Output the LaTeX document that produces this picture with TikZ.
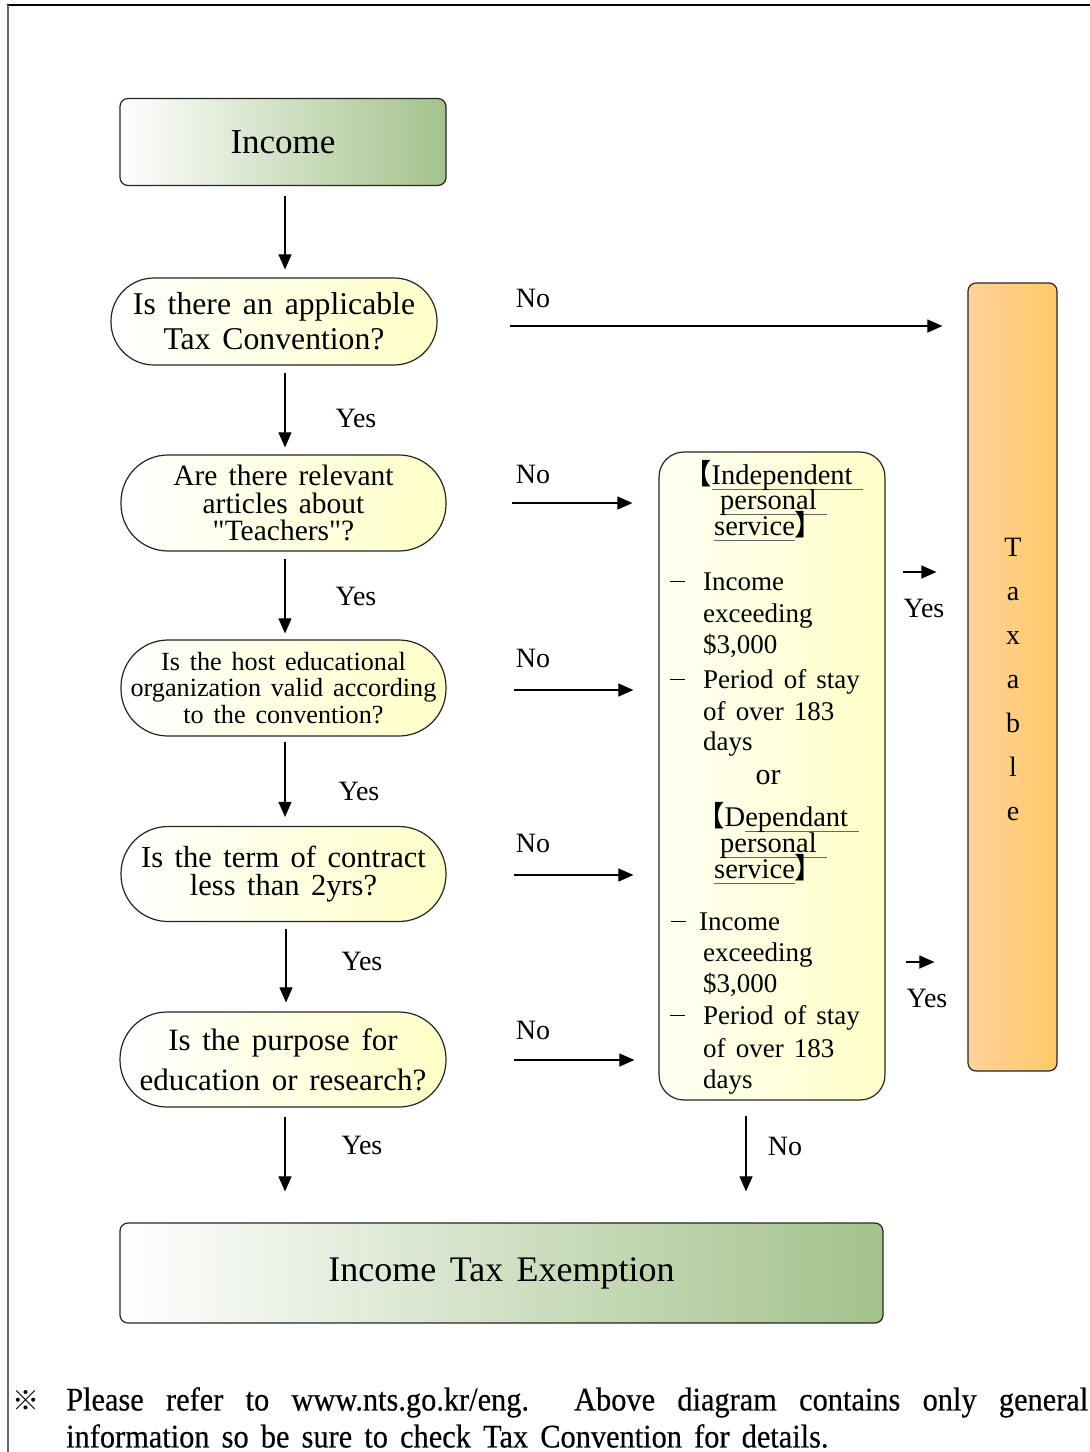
\documentclass[tikz,border=0pt]{standalone}
\usepackage{fontspec}
\setmainfont[WordSpace=1.5]{Liberation Serif}
\newfontfamily\cjk{Noto Sans CJK SC}
\newfontfamily\footfont[FakeStretch=0.92,WordSpace=1.6,FakeBold=0.4]{Liberation Serif}
\usetikzlibrary{arrows.meta}
\definecolor{grn}{RGB}{163,194,139}
\definecolor{qyel}{RGB}{255,255,200}
\definecolor{oraL}{RGB}{255,208,155}
\definecolor{oraR}{RGB}{255,202,102}
\newcommand\fsz[2]{\fontsize{#1pt}{#2pt}\selectfont}
\newcommand\myul[1]{\setbox0\hbox{#1}\rlap{\raisebox{-6pt}{\color{black!60}\rule{\wd0}{1.3pt}}}\box0}
\newcommand\mydash{\makebox[33pt][l]{\rule[8pt]{15pt}{1.2pt}}}
\newcommand\sq{{\addfontfeature{Ligatures=TeXOff}"}}
\tikzset{
  greenbox/.style={draw=black!85, line width=1.2pt, rounded corners=8pt, left color=white, right color=grn, inner sep=0pt, align=center},
  qbox/.style={draw=black!85, line width=1.2pt, left color=white, right color=qyel, inner sep=0pt, align=center},
  arr/.style={draw=black, line width=1.1pt, -{Triangle[length=15pt,width=13pt]}},
  lbl/.style={font=\fsz{28}{30}, inner sep=0pt, anchor=base},
  mtxt/.style={font=\fsz{27}{30}, inner sep=0pt, anchor=base west},
  mhead/.style={font=\fsz{28.5}{30}, inner sep=0pt, anchor=base west},
}
\begin{document}
\begin{tikzpicture}[x=1pt,y=-1pt]
\useasboundingbox (0,0) rectangle (1090,1452);
\fill[white] (0,0) rectangle (1090,1452);
% frame
\draw[line width=2.5pt] (7,5) -- (1090,5);
\draw[line width=2pt, black!60] (8,5) -- (8,1452);

% left column
\node[greenbox, minimum width=326pt, minimum height=87pt, font=\fsz{35}{38}] (inc) at (283,142) {Income};
\node[qbox, minimum width=326pt, minimum height=87pt, rounded corners=43pt, font=\fsz{31.7}{35}] (q1) at (274,321.5) {Is there an applicable\\Tax Convention?};
\node[qbox, minimum width=325pt, minimum height=96pt, rounded corners=47pt, font=\fsz{29.5}{27.5}] (q2) at (283.5,503) {Are there relevant\\articles about\\\sq Teachers\sq?};
\node[qbox, minimum width=325pt, minimum height=96pt, rounded corners=47pt, font=\fsz{26.2}{26.5}] (q3) at (283.5,688) {Is the host educational\\organization valid according\\to the convention?};
\node[qbox, minimum width=325pt, minimum height=95pt, rounded corners=47pt, font=\fsz{30.5}{28}] (q4) at (283.5,874) {Is the term of contract\\less than 2yrs?};
\node[qbox, minimum width=326pt, minimum height=95pt, rounded corners=47pt, font=\fsz{31}{40}] (q5) at (283,1059.5) {Is the purpose for\\education or research?};
\node[greenbox, minimum width=763pt, minimum height=100pt, font=\fsz{36}{38}] (exe) at (501.5,1273) {Income Tax Exemption};

% middle box
\node[draw=black!85, line width=1.2pt, rounded corners=25pt, left color=qyel!20!white, right color=qyel, minimum width=226pt, minimum height=648pt, inner sep=0pt] (mid) at (772,776) {};
% taxable box
\node[draw=black!85, line width=1.2pt, rounded corners=8pt, left color=oraL, right color=oraR, minimum width=89pt, minimum height=788pt, inner sep=0pt] (tax) at (1012.5,677) {};
\foreach \l [count=\i] in {T,a,x,a,b,l,e}
  \node[lbl] (tx\i) at (1013,{556+44*(\i-1)}) {\l};

% middle box text
\node[mhead] (m1) at (683,484) {{\cjk 【}\myul{Independent\ }};
\node[mhead] (m2) at (720,509) {\myul{personal\ }};
\node[mhead] (m3) at (714,535) {\myul{service}{\cjk 】}};
\node[mtxt] (m4) at (670,590) {\mydash Income};
\node[mtxt] (m5) at (703,622) {exceeding};
\node[mtxt] (m6) at (703,653) {\$3,000};
\node[mtxt] (m7) at (670,688) {\mydash Period of stay};
\node[mtxt] (m8) at (703,720) {of over 183};
\node[mtxt] (m9) at (703,750) {days};
\node[mtxt, anchor=base, font=\fsz{30}{32}] (m10) at (768,784) {or};
\node[mhead] (m11) at (696,826) {{\cjk 【}D\myul{ependant\ }};
\node[mhead] (m12) at (720,852) {\myul{personal\ }};
\node[mhead] (m13) at (714,878) {\myul{service}{\cjk 】}};
\node[mtxt] (m14) at (671,930) {\makebox[28pt][l]{\rule[8pt]{15pt}{1.2pt}}Income};
\node[mtxt] (m15) at (703,961) {exceeding};
\node[mtxt] (m16) at (703,992) {\$3,000};
\node[mtxt] (m17) at (670,1024) {\mydash Period of stay};
\node[mtxt] (m18) at (703,1057) {of over 183};
\node[mtxt] (m19) at (703,1088) {days};

% vertical arrows
\draw[arr, shorten <=10pt, shorten >=8pt] ([xshift=2pt]inc.south) -- (q1.north -| 285,0);
\draw[arr, shorten <=7pt, shorten >=7pt] (q1.south -| 285,0) -- (q2.north -| 285,0);
\draw[arr, shorten <=7pt, shorten >=6pt] (q2.south -| 285,0) -- (q3.north -| 285,0);
\draw[arr, shorten <=5pt, shorten >=9pt] (q3.south -| 285,0) -- (q4.north -| 285,0);
\draw[arr, shorten <=7pt, shorten >=9pt] (q4.south -| 286,0) -- (q5.north -| 286,0);
\draw[arr, shorten <=9pt, shorten >=31pt] (q5.south -| 285,0) -- (exe.north -| 285,0);
\draw[arr, shorten <=15pt, shorten >=31pt] (mid.south -| 746,0) -- (exe.north -| 746,0);

% horizontal No arrows
\draw[arr, shorten <=72pt, shorten >=25pt] (q1.east |- 0,326) -- (tax.west |- 0,326);
\draw[arr, shorten <=65pt, shorten >=26pt] (q2.east |- 0,503) -- (mid.west |- 0,503);
\draw[arr, shorten <=67pt, shorten >=25pt] (q3.east |- 0,690) -- (mid.west |- 0,690);
\draw[arr, shorten <=67pt, shorten >=25pt] (q4.east |- 0,875) -- (mid.west |- 0,875);
\draw[arr, shorten <=67pt, shorten >=24pt] (q5.east |- 0,1060) -- (mid.west |- 0,1060);

% Yes arrows to Taxable
\draw[arr, shorten <=17pt, shorten >=31pt] (mid.east |- 0,572) -- (tax.west |- 0,572);
\draw[arr, shorten <=20pt, shorten >=33pt] (mid.east |- 0,962) -- (tax.west |- 0,962);

% labels
\node[lbl] (n1) at (533,307) {No};
\node[lbl] (n2) at (533,483) {No};
\node[lbl] (n3) at (533,667) {No};
\node[lbl] (n4) at (533,852) {No};
\node[lbl] (n5) at (533,1039) {No};
\node[lbl] (n6) at (785,1155) {No};
\node[lbl] (y1) at (356,427) {Yes};
\node[lbl] (y2) at (356,605) {Yes};
\node[lbl] (y3) at (359,800) {Yes};
\node[lbl] (y4) at (362,970) {Yes};
\node[lbl] (y5) at (362,1154) {Yes};
\node[lbl] (y6) at (924,617) {Yes};
\node[lbl] (y7) at (927,1007) {Yes};

% footer
\node[anchor=base west, inner sep=0pt, font=\cjk\fsz{27}{30}] (mark) at (12,1410) {※};
\node[anchor=north west, inner sep=0pt, text width=1022pt, align=justify, font=\footfont\fsz{33}{37}] (foot) at (66,1387)
 {Please refer to www.nts.go.kr/eng. Above diagram contains only general\linebreak information so be sure to check Tax Convention for details.};
\end{tikzpicture}
\end{document}
